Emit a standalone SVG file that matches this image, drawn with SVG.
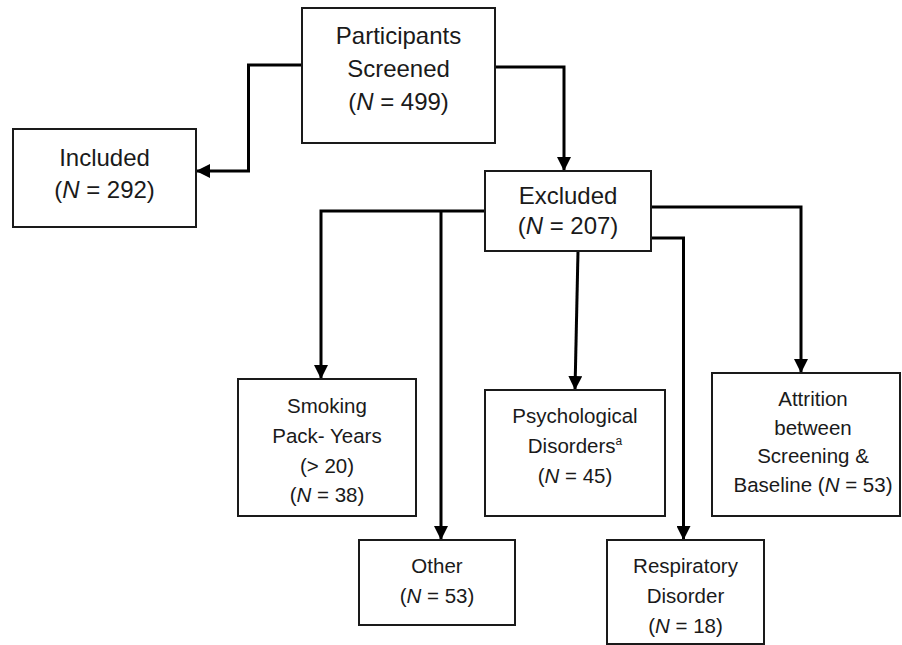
<svg xmlns="http://www.w3.org/2000/svg" width="902" height="645" viewBox="0 0 902 645">
<defs>
<marker id="arr" markerUnits="userSpaceOnUse" markerWidth="14" markerHeight="14" refX="14" refY="7" orient="auto" viewBox="0 0 14 14">
<path d="M0,0 L14,7 L0,14 z" fill="#000"/>
</marker>
<style>
.box{fill:#fff;stroke:#1a1a1a;stroke-width:2}
.t{font-family:"Liberation Sans",Arial,sans-serif;fill:#1a1a1a;text-anchor:middle}
.big{font-size:24px}
.sm{font-size:20.5px}
.i{font-style:italic}
.c{fill:none;stroke:#000;stroke-width:3;stroke-linecap:butt;stroke-linejoin:miter}
</style>
</defs>
<rect width="902" height="645" fill="#fff"/>
<g id="connectors">
<polyline class="c" points="302,65 248.5,65 248.5,171 196,171" marker-end="url(#arr)"/>
<polyline class="c" points="495,67 564,67 564,171" marker-end="url(#arr)"/>
<polyline class="c" points="485,211 321,211 321,379" marker-end="url(#arr)"/>
<polyline class="c" points="441,211 441,540" marker-end="url(#arr)"/>
<polyline class="c" points="578,251 575,390" marker-end="url(#arr)"/>
<polyline class="c" points="651,207 801,207 801,373" marker-end="url(#arr)"/>
<polyline class="c" points="651,238 683.5,238 683.5,540" marker-end="url(#arr)"/>
</g>
<g id="screened">
<rect class="box" x="302" y="8" width="193" height="135"/>
<text class="t big" x="398.5" y="44">Participants</text>
<text class="t big" x="398.5" y="77">Screened</text>
<text class="t big" x="398.5" y="110">(<tspan class="i">N</tspan> = 499)</text>
</g>
<g id="included">
<rect class="box" x="13" y="129" width="183" height="98"/>
<text class="t big" x="104.5" y="166">Included</text>
<text class="t big" x="104.5" y="198">(<tspan class="i">N</tspan> = 292)</text>
</g>
<g id="excluded">
<rect class="box" x="485" y="171" width="166" height="80"/>
<text class="t big" x="568" y="204">Excluded</text>
<text class="t big" x="568" y="234">(<tspan class="i">N</tspan> = 207)</text>
</g>
<g id="smoking">
<rect class="box" x="238" y="379" width="178" height="137"/>
<text class="t sm" x="327" y="413">Smoking</text>
<text class="t sm" x="327" y="443">Pack- Years</text>
<text class="t sm" x="327" y="473">(&gt; 20)</text>
<text class="t sm" x="327" y="502">(<tspan class="i">N</tspan> = 38)</text>
</g>
<g id="other">
<rect class="box" x="359" y="540" width="156" height="85"/>
<text class="t sm" x="437" y="573">Other</text>
<text class="t sm" x="437" y="603">(<tspan class="i">N</tspan> = 53)</text>
</g>
<g id="psychological">
<rect class="box" x="485" y="390" width="180" height="126"/>
<text class="t sm" x="575" y="423">Psychological</text>
<text class="t sm" x="575" y="453">Disorders<tspan font-size="12" dy="-8">a</tspan></text>
<text class="t sm" x="575" y="483">(<tspan class="i">N</tspan> = 45)</text>
</g>
<g id="respiratory">
<rect class="box" x="607" y="540" width="157" height="104"/>
<text class="t sm" x="685.5" y="573">Respiratory</text>
<text class="t sm" x="685.5" y="603">Disorder</text>
<text class="t sm" x="685.5" y="633">(<tspan class="i">N</tspan> = 18)</text>
</g>
<g id="attrition">
<rect class="box" x="712" y="373" width="188" height="143"/>
<text class="t sm" x="813" y="406">Attrition</text>
<text class="t sm" x="813" y="435">between</text>
<text class="t sm" x="813" y="463">Screening &amp;</text>
<text class="t sm" x="813" y="492">Baseline (<tspan class="i">N</tspan> = 53)</text>
</g>
</svg>
